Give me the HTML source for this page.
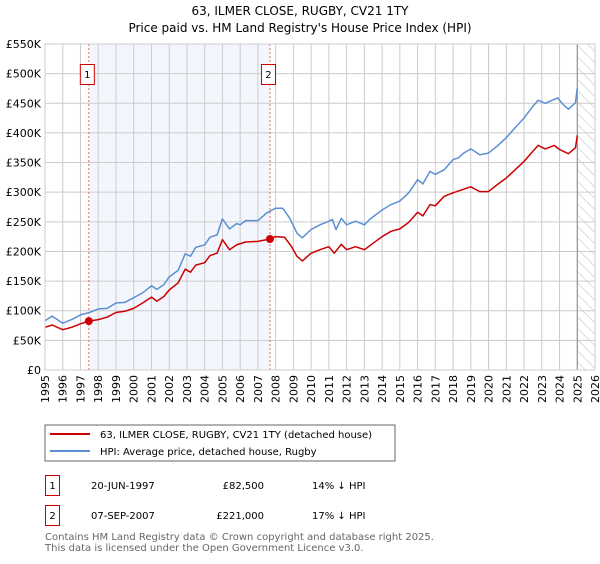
<!DOCTYPE html>
<html><head><meta charset="utf-8"><style>
body{margin:0;background:#fff;font-family:"DejaVu Sans","Liberation Sans",sans-serif;}
svg text{font-family:"DejaVu Sans","Liberation Sans",sans-serif;}
</style></head><body>
<svg id="chart" width="600" height="560" viewBox="0 0 600 560" xmlns="http://www.w3.org/2000/svg">
<defs><pattern id="hatch" width="8" height="8" patternUnits="userSpaceOnUse" patternTransform="rotate(-45)"><line x1="0" y1="0" x2="0" y2="8" stroke="#bbb" stroke-width="1"/></pattern></defs>
<text x="300" y="15" text-anchor="middle" font-size="12">63, ILMER CLOSE, RUGBY, CV21 1TY</text>
<text x="300" y="32" text-anchor="middle" font-size="12">Price paid vs. HM Land Registry's House Price Index (HPI)</text>
<g id="plot"></g>
<g>
<rect x="45" y="425" width="350" height="36" fill="#fff" stroke="#666" stroke-width="1"/>
<line x1="50" y1="434" x2="90" y2="434" stroke="#cc0000" stroke-width="2"/>
<text x="100" y="438" font-size="10">63, ILMER CLOSE, RUGBY, CV21 1TY (detached house)</text>
<line x1="50" y1="451" x2="90" y2="451" stroke="#5b8fd4" stroke-width="2"/>
<text x="100" y="455" font-size="10">HPI: Average price, detached house, Rugby</text>
</g>
<g font-size="10">
<rect x="45.5" y="475.5" width="14" height="20" fill="#fff" stroke="#cc0000"/>
<text x="52.5" y="489" text-anchor="middle">1</text>
<text x="91" y="489">20-JUN-1997</text>
<text x="264" y="489" text-anchor="end">£82,500</text>
<text x="312" y="489">14% ↓ HPI</text>
<rect x="45.5" y="505.5" width="14" height="20" fill="#fff" stroke="#cc0000"/>
<text x="52.5" y="519" text-anchor="middle">2</text>
<text x="91" y="519">07-SEP-2007</text>
<text x="264" y="519" text-anchor="end">£221,000</text>
<text x="312" y="519">17% ↓ HPI</text>
</g>
<text x="45" y="540" font-size="10" fill="#666">Contains HM Land Registry data © Crown copyright and database right 2025.</text>
<text x="45" y="551" font-size="10" fill="#666">This data is licensed under the Open Government Licence v3.0.</text>
</svg>
<script>
const hpiYears=[1995,1995.4,1996,1996.5,1997,1997.5,1998,1998.5,1999,1999.5,2000,2000.5,2001,2001.3,2001.7,2002,2002.5,2002.9,2003.2,2003.5,2004,2004.3,2004.7,2005,2005.4,2005.8,2006,2006.3,2007,2007.5,2008,2008.4,2008.8,2009.2,2009.5,2010,2010.5,2011,2011.2,2011.4,2011.7,2012,2012.5,2013,2013.3,2014,2014.5,2015,2015.5,2016,2016.3,2016.7,2017,2017.5,2018,2018.3,2018.6,2019,2019.5,2020,2020.5,2021,2021.5,2022,2022.5,2022.8,2023.2,2023.5,2023.9,2024.2,2024.5,2024.9,2025.0];
const hpiValues=[83,91,79,85,93,97,103,104,113,114,122,130,142,136,144,157,168,196,192,207,211,224,228,255,238,247,245,252,252,265,273,273,256,231,223,237,245,251,254,237,256,245,251,245,254,270,279,285,299,321,314,335,330,338,355,358,366,373,363,366,378,392,409,425,445,455,450,454,459,448,440,451,476];
const ppYears=[1995,1995.4,1996,1996.5,1997,1997.47,1998,1998.5,1999,1999.5,2000,2000.5,2001,2001.3,2001.7,2002,2002.5,2002.9,2003.2,2003.5,2004,2004.3,2004.7,2005,2005.4,2005.8,2006.3,2007,2007.68,2008,2008.5,2008.9,2009.2,2009.5,2010,2010.5,2011,2011.3,2011.7,2012,2012.5,2013,2013.5,2014,2014.5,2015,2015.5,2016,2016.3,2016.7,2017,2017.5,2018,2018.5,2019,2019.5,2020,2020.5,2021,2021.5,2022,2022.5,2022.8,2023.2,2023.7,2024,2024.5,2024.9,2025.0];
const ppValues=[72,76,68,72,78,82.5,85,89,97,99,104,113,123,116,124,135,147,170,165,177,181,193,197,220,203,211,216,217,221,225,224,208,192,184,197,203,208,197,212,203,208,203,214,225,234,238,249,266,260,279,277,293,299,304,309,301,301,313,324,338,352,369,379,373,379,372,365,375,396];
const saleYears=[1997.47,2007.68];
const saleValues=[82.5,221];
const saleLabels=["1","2"];
const yTicks=[0,50,100,150,200,250,300,350,400,450,500,550];
const yTickLabels=["£0","£50K","£100K","£150K","£200K","£250K","£300K","£350K","£400K","£450K","£500K","£550K"];
const xTicks=[1995,1996,1997,1998,1999,2000,2001,2002,2003,2004,2005,2006,2007,2008,2009,2010,2011,2012,2013,2014,2015,2016,2017,2018,2019,2020,2021,2022,2023,2024,2025,2026];
const dataEnd=2025.0;

const L=45,R=595,T=44,B=370,x0=1995,x1=2026,yMax=550;
const X=v=>L+(v-x0)/(x1-x0)*(R-L);
const Y=v=>B-v/yMax*(B-T);
const NS="http://www.w3.org/2000/svg";
const g=document.getElementById('plot');
function mk(tag,attrs,parent){const e=document.createElementNS(NS,tag);for(const k in attrs)e.setAttribute(k,attrs[k]);(parent||g).appendChild(e);return e;}
let e;
e=mk('rect',{x:L,y:T,width:R-L,height:B-T,fill:'#fff'});


e=mk('rect',{x:X(saleYears[0]),y:T,width:X(saleYears[1])-X(saleYears[0]),height:B-T,fill:'#eef3fc',opacity:0.7});


e=mk('rect',{x:X(dataEnd),y:T,width:R-X(dataEnd),height:B-T,fill:'url(#hatch)'});


yTicks.forEach((t,i)=>{
  e=mk('line',{x1:L,x2:R,y1:Y(t),y2:Y(t),stroke:'#ccc','stroke-width':1});
  
  
  e=mk('text',{x:L-4,y:Y(t)+4,'text-anchor':'end','font-size':11});
  
  
  e.textContent=yTickLabels[i];
});
xTicks.forEach(t=>{
  e=mk('line',{x1:X(t),x2:X(t),y1:T,y2:B,stroke:'#ccc','stroke-width':1});
  
  
  e=mk('text',{x:0,y:0,'text-anchor':'end','font-size':11,transform:`translate(${X(t)+4},${B+5}) rotate(-90)`});
  
  
  e.textContent=t;
});
e=mk('line',{x1:X(dataEnd),x2:X(dataEnd),y1:T,y2:B,stroke:'#888','stroke-width':1});


saleYears.forEach((s,i)=>{
  e=mk('line',{x1:X(s),x2:X(s),y1:T,y2:B,stroke:'#e66','stroke-width':1,'stroke-dasharray':'2,2'});
  
  
  e=mk('rect',{x:X(s)-8.5,y:64.5,width:14,height:20,fill:'#fff',stroke:'#cc0000'});
  
  
  e=mk('text',{x:X(s)-1.5,y:78,'text-anchor':'middle','font-size':10});
  
  
  e.textContent=saleLabels[i];
});
function path(xs,ys,color,name){
  const d=xs.map((v,i)=>(i?'L':'M')+X(v).toFixed(1)+','+Y(ys[i]).toFixed(1)).join('');
  const p=mk('path',{d,fill:'none',stroke:color,'stroke-width':1.5,'stroke-linejoin':'round'});
  
  
}
path(hpiYears,hpiValues,'#5b8fd4','hpi-line');
path(ppYears,ppValues,'#cc0000','price-paid-line');
saleYears.forEach((s,i)=>{
  e=mk('circle',{cx:X(s),cy:Y(saleValues[i]),r:4,fill:'#cc0000'});
  
  
});
e=mk('rect',{x:L,y:T,width:R-L,height:B-T,fill:'none',stroke:'#ccc'});


</script>
</body></html>
